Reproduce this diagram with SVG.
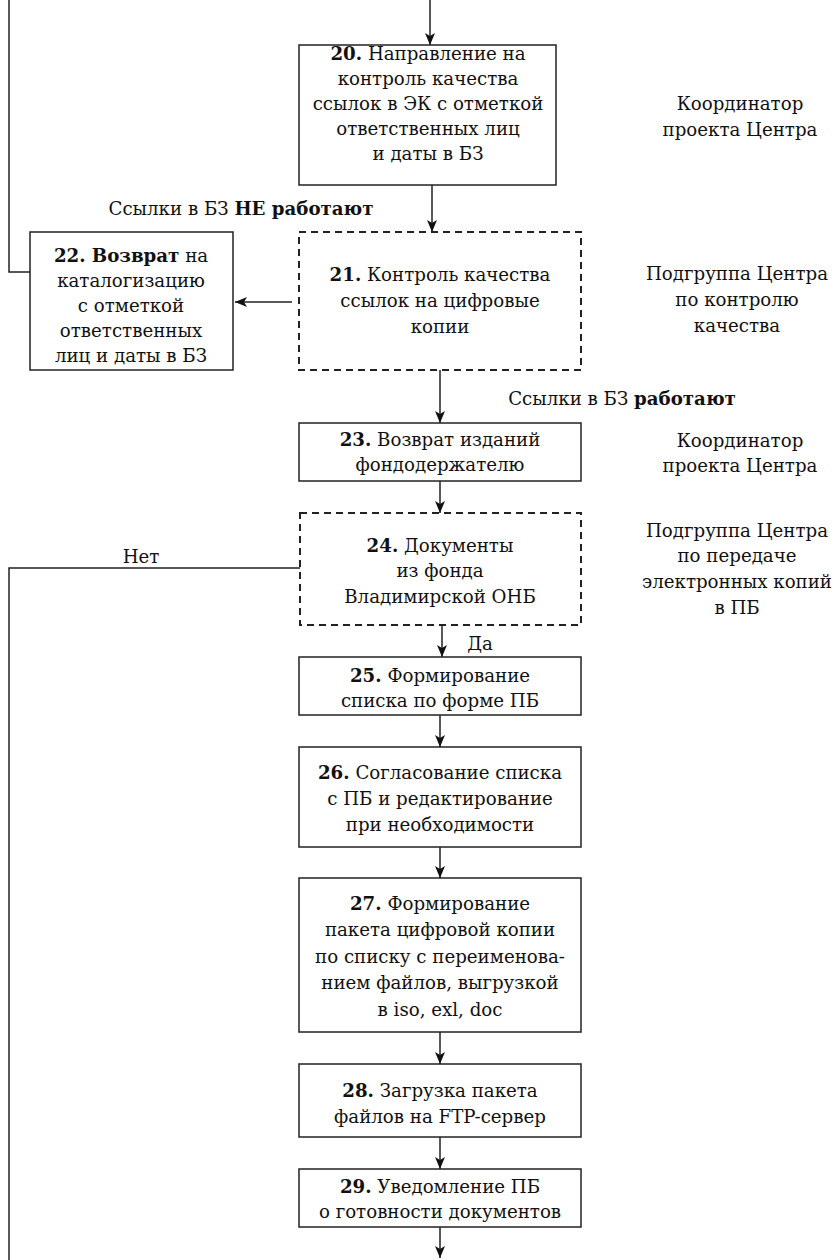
<svg xmlns="http://www.w3.org/2000/svg" width="835" height="1260" viewBox="0 0 835 1260">
<defs>
<style>
text{font-family:"DejaVu Serif","Liberation Serif",serif;font-size:18.2px;fill:#111;text-anchor:middle}
.b{font-weight:bold}
.box{fill:#fff;stroke:#222;stroke-width:1.5}
.dash{fill:#fff;stroke:#222;stroke-width:2;stroke-dasharray:7 5}
.ln{fill:none;stroke:#222;stroke-width:1.5}
</style>
<marker id="ah" viewBox="0 0 12 10" refX="12" refY="5" markerWidth="12" markerHeight="10" markerUnits="userSpaceOnUse" orient="auto">
<path d="M0,0 L12,5 L0,10 L3,5 Z" fill="#111"/>
</marker>
</defs>
<g id="connectors">
<path class="ln" d="M430,0 V45" marker-end="url(#ah)"/>
<path class="ln" d="M432,185 V232" marker-end="url(#ah)"/>
<path class="ln" d="M292,302 H235" marker-end="url(#ah)"/>
<path class="ln" d="M30,272 H9 V0"/>
<path class="ln" d="M440,370 V423" marker-end="url(#ah)"/>
<path class="ln" d="M440,481 V513" marker-end="url(#ah)"/>
<path class="ln" d="M300,568 H9 V1260"/>
<path class="ln" d="M442,625 V657" marker-end="url(#ah)"/>
<path class="ln" d="M440,715 V747" marker-end="url(#ah)"/>
<path class="ln" d="M440,847 V878" marker-end="url(#ah)"/>
<path class="ln" d="M440,1032 V1064" marker-end="url(#ah)"/>
<path class="ln" d="M440,1137 V1169" marker-end="url(#ah)"/>
<path class="ln" d="M440,1227 V1258" marker-end="url(#ah)"/>
<text x="241" y="215">Ссылки в БЗ <tspan class="b">НЕ работают</tspan></text>
<text x="622" y="405">Ссылки в БЗ <tspan class="b">работают</tspan></text>
<text x="141" y="563">Нет</text>
<text x="480" y="650">Да</text>
</g>
<g id="n20">
<rect class="box" x="299" y="45" width="257" height="140"/>
<text x="428" y="60"><tspan class="b">20.</tspan> Направление на</text>
<text x="428" y="85">контроль качества</text>
<text x="428" y="110">ссылок в ЭК с отметкой</text>
<text x="428" y="135">ответственных лиц</text>
<text x="428" y="160">и даты в БЗ</text>
</g>
<g id="r20">
<text x="740" y="110">Координатор</text>
<text x="740" y="136">проекта Центра</text>
</g>
<g id="n22">
<rect class="box" x="30" y="232" width="203" height="138"/>
<text x="131" y="262"><tspan class="b">22. Возврат</tspan> на</text>
<text x="131" y="287">каталогизацию</text>
<text x="131" y="312">с отметкой</text>
<text x="131" y="337">ответственных</text>
<text x="131" y="362">лиц и даты в БЗ</text>
</g>
<g id="n21">
<rect class="dash" x="299" y="232" width="282" height="138"/>
<text x="440" y="281"><tspan class="b">21.</tspan> Контроль качества</text>
<text x="440" y="307">ссылок на цифровые</text>
<text x="440" y="333">копии</text>
</g>
<g id="r21">
<text x="737" y="280">Подгруппа Центра</text>
<text x="737" y="306">по контролю</text>
<text x="737" y="332">качества</text>
</g>
<g id="n23">
<rect class="box" x="299" y="423" width="282" height="58"/>
<text x="440" y="446"><tspan class="b">23.</tspan> Возврат изданий</text>
<text x="440" y="471">фондодержателю</text>
</g>
<g id="r23">
<text x="740" y="447">Координатор</text>
<text x="740" y="472">проекта Центра</text>
</g>
<g id="n24">
<rect class="dash" x="300" y="513" width="281" height="112"/>
<text x="440" y="552"><tspan class="b">24.</tspan> Документы</text>
<text x="440" y="577">из фонда</text>
<text x="440" y="603">Владимирской ОНБ</text>
</g>
<g id="r24">
<text x="737" y="537">Подгруппа Центра</text>
<text x="737" y="562">по передаче</text>
<text x="737" y="588">электронных копий</text>
<text x="737" y="614">в ПБ</text>
</g>
<g id="n25">
<rect class="box" x="299" y="657" width="282" height="58"/>
<text x="440" y="682"><tspan class="b">25.</tspan> Формирование</text>
<text x="440" y="707">списка по форме ПБ</text>
</g>
<g id="n26">
<rect class="box" x="299" y="747" width="282" height="100"/>
<text x="440" y="779"><tspan class="b">26.</tspan> Согласование списка</text>
<text x="440" y="805">с ПБ и редактирование</text>
<text x="440" y="831">при необходимости</text>
</g>
<g id="n27">
<rect class="box" x="299" y="878" width="282" height="154"/>
<text x="440" y="910"><tspan class="b">27.</tspan> Формирование</text>
<text x="440" y="936">пакета цифровой копии</text>
<text x="440" y="963">по списку с переименова-</text>
<text x="440" y="989">нием файлов, выгрузкой</text>
<text x="440" y="1016">в iso, exl, doc</text>
</g>
<g id="n28">
<rect class="box" x="299" y="1064" width="282" height="73"/>
<text x="440" y="1097"><tspan class="b">28.</tspan> Загрузка пакета</text>
<text x="440" y="1123">файлов на FTP-сервер</text>
</g>
<g id="n29">
<rect class="box" x="299" y="1169" width="282" height="58"/>
<text x="440" y="1193"><tspan class="b">29.</tspan> Уведомление ПБ</text>
<text x="440" y="1218">о готовности документов</text>
</g>
</svg>
